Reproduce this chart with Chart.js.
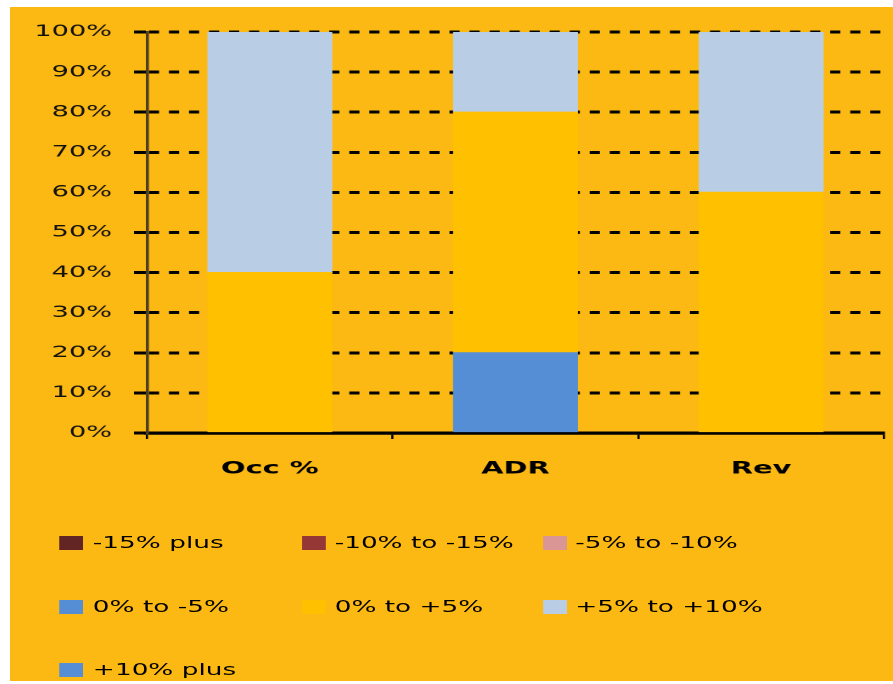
<!DOCTYPE html>
<html>
<head>
<meta charset="utf-8">
<script src="https://cdn.jsdelivr.net/npm/chart.js@4"></script>
<style>
  html, body { margin:0; padding:0; background:#ffffff; }
  body { width:893px; height:684px; position:relative; overflow:hidden; }
  #frame {
    position:absolute; left:10px; top:7px; width:520px; height:674px;
    background:#FDB913; transform:scaleX(1.698); transform-origin:0 0;
  }
  #chartBox { position:absolute; left:0; top:0; width:520px; height:500px; }
  #legend { position:absolute; left:0; top:0; width:520px; height:674px;
    font-family:"DejaVu Sans", sans-serif; font-size:15.5px; color:#000; }
  .item { position:absolute; height:20px; line-height:20px; white-space:nowrap; }
  .box { position:absolute; left:0; top:3px; width:14px; height:14px; }
  .txt { position:absolute; left:19.4px; top:0; }
</style>
</head>
<body>
<div id="frame">
  <div id="chartBox"><canvas id="c"></canvas></div>
  <div id="legend"></div>
</div>
<script>
const categories = ['Occ %', 'ADR', 'Rev'];
const seriesNames = ['-15% plus', '-10% to -15%', '-5% to -10%', '0% to -5%', '0% to +5%', '+5% to +10%', '+10% plus'];
const seriesColors = ['#632523', '#953735', '#D99694', '#558ED5', '#FFC000', '#B9CDE5', '#558ED5'];
const minus15plus = [0, 0, 0];
const minus10to15 = [0, 0, 0];
const minus5to10 = [0, 0, 0];
const zeroToMinus5 = [0, 20, 0];
const zeroToPlus5 = [40, 60, 60];
const plus5to10 = [60, 20, 40];
const plus10plus = [0, 0, 0];
const seriesValues = [minus15plus, minus10to15, minus5to10, zeroToMinus5, zeroToPlus5, plus5to10, plus10plus];
const yTicks = [0, 10, 20, 30, 40, 50, 60, 70, 80, 90, 100];

const datasets = seriesNames.map((name, i) => ({
  label: name,
  data: seriesValues[i].map(v => (v === 0 ? null : v)),
  backgroundColor: seriesColors[i],
  borderWidth: 0,
  inflateAmount: 0.6,
  categoryPercentage: 1.0,
  barPercentage: 0.5
}));

new Chart(document.getElementById('c'), {
  type: 'bar',
  data: { labels: categories, datasets },
  options: {
    responsive: true,
    maintainAspectRatio: false,
    animation: false,
    devicePixelRatio: 2,
    layout: { padding: { left: 0, right: 5.3, top: 25, bottom: 0 } },
    plugins: { legend: { display: false }, tooltip: { enabled: false } },
    scales: {
      x: {
        stacked: true,
        grid: { display: true, drawOnChartArea: false, drawTicks: true, tickLength: 6,
                color: '#000', lineWidth: 1.3, offset: true },
        border: { display: true, color: '#000', width: 3.2 },
        ticks: { color: '#000', padding: 20,
                 font: { family: 'DejaVu Sans', size: 17, weight: 'bold' } },
        afterFit: (s) => { s.height = 74; }
      },
      y: {
        stacked: true,
        min: 0, max: 100,
        afterBuildTicks: (s) => { s.ticks = yTicks.map(v => ({ value: v })); },
        grid: { color: '#000', lineWidth: 3, tickLength: 7.7, tickBorderDash: [] },
        border: { display: true, color: '#4d4020', width: 1.8, dash: [6, 5.8] },
        ticks: { color: '#111', padding: 12.9, callback: (v) => v + '%',
                 font: { family: 'DejaVu Sans', size: 16 } },
        afterFit: (s) => { s.width = 80.7; }
      }
    }
  }
});

// HTML legend in a 3-column grid
const legendEl = document.getElementById('legend');
const colX = [29.4, 171.8, 313.5];
const rowY = [526, 590, 653];
seriesNames.forEach((name, i) => {
  const item = document.createElement('div');
  item.className = 'item';
  item.style.left = colX[i % 3] + 'px';
  item.style.top = rowY[Math.floor(i / 3)] + 'px';
  const box = document.createElement('span');
  box.className = 'box';
  box.style.background = seriesColors[i];
  const txt = document.createElement('span');
  txt.className = 'txt';
  txt.textContent = name;
  item.appendChild(box); item.appendChild(txt);
  legendEl.appendChild(item);
});
</script>
</body>
</html>
